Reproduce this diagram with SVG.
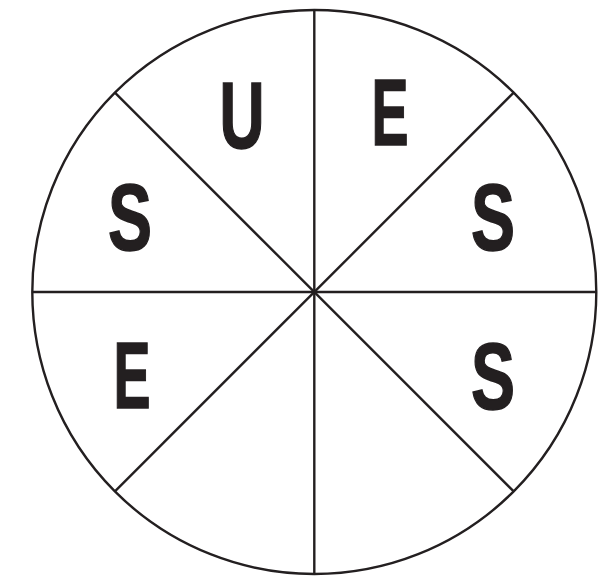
<svg xmlns="http://www.w3.org/2000/svg" width="616" height="577" viewBox="0 0 616 577">
<style>
.ln{stroke:#231f20;stroke-width:2.4;fill:none}
.lt{font-family:"Liberation Sans",Arial,sans-serif;font-weight:bold;font-size:95px;fill:#231f20;stroke:#231f20;stroke-width:1.6;text-anchor:middle}
</style>
<rect width="616" height="577" fill="#fff"/>
<g id="connectors">
<circle class="ln" cx="314.3" cy="292" r="282"/>
<line class="ln" x1="314.3" y1="10" x2="314.3" y2="574"/>
<line class="ln" x1="32.3" y1="292" x2="596.3" y2="292"/>
<line class="ln" x1="114.9" y1="92.6" x2="513.7" y2="491.4"/>
<line class="ln" x1="513.7" y1="92.6" x2="114.9" y2="491.4"/>
</g>
<g id="s-u"><text class="lt" x="242" y="148" textLength="45" lengthAdjust="spacingAndGlyphs">U</text></g>
<g id="s-e1"><text class="lt" x="390" y="145" textLength="37" lengthAdjust="spacingAndGlyphs">E</text></g>
<g id="s-s1"><text class="lt" x="493" y="250" textLength="44" lengthAdjust="spacingAndGlyphs">S</text></g>
<g id="s-s2"><text class="lt" x="493" y="409" textLength="44" lengthAdjust="spacingAndGlyphs">S</text></g>
<g id="s-s3"><text class="lt" x="130" y="250" textLength="44" lengthAdjust="spacingAndGlyphs">S</text></g>
<g id="s-e2"><text class="lt" x="132" y="408" textLength="37" lengthAdjust="spacingAndGlyphs">E</text></g>
</svg>
